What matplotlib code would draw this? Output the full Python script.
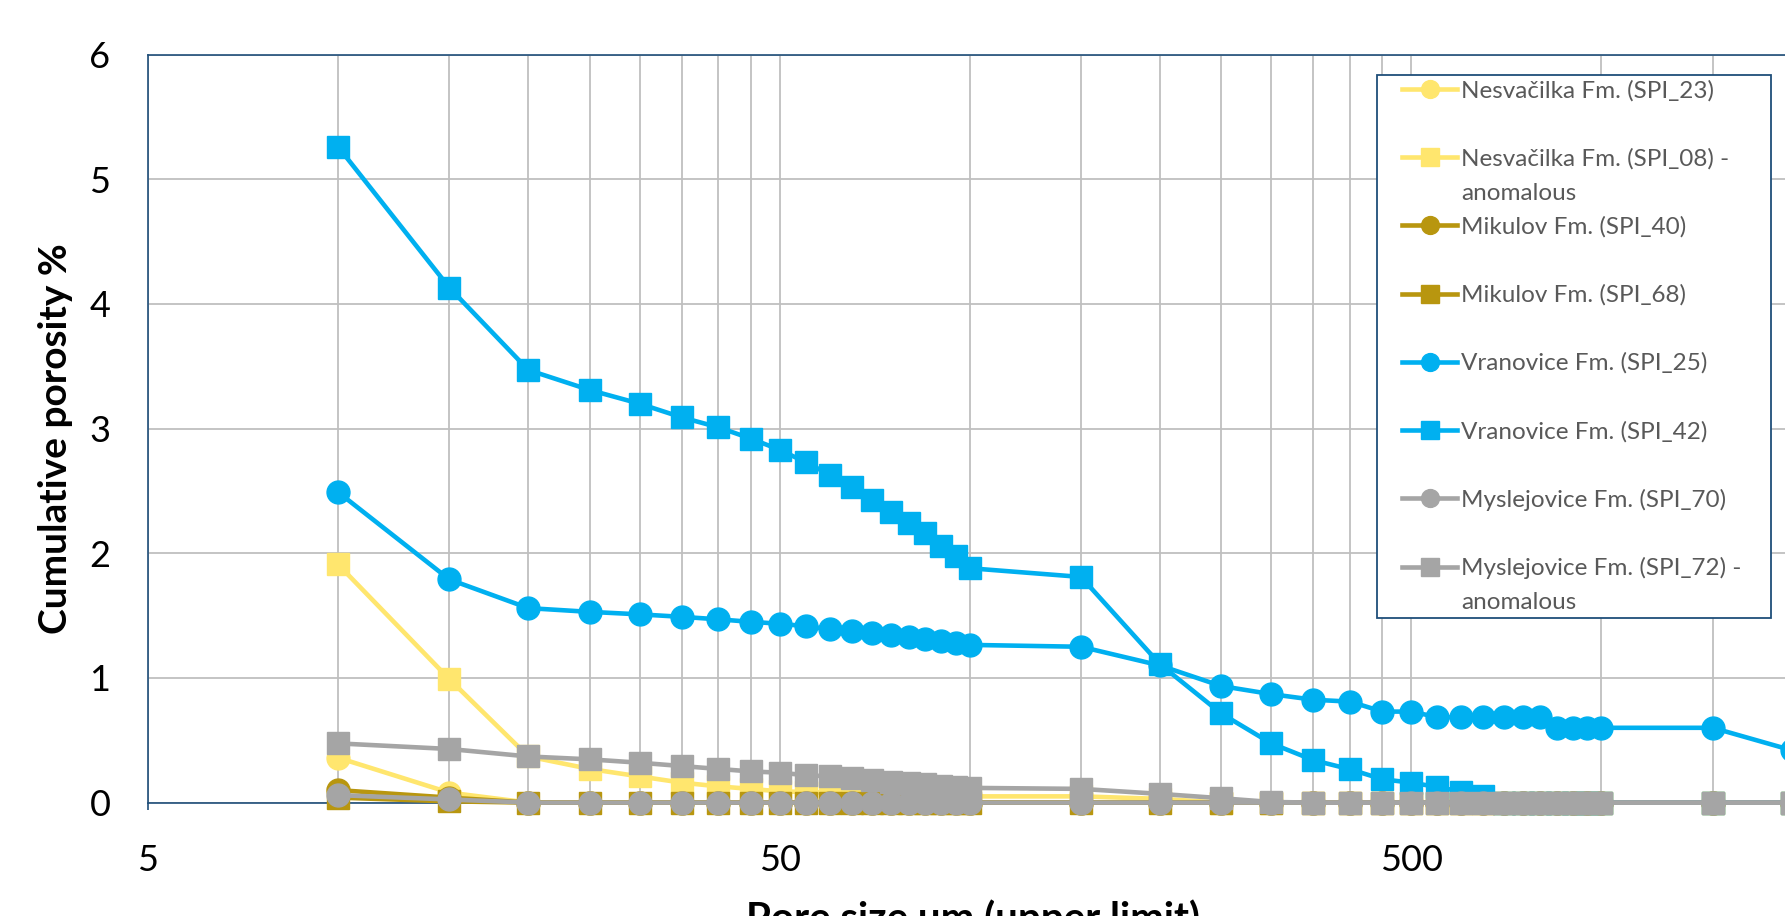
import matplotlib
matplotlib.use("Agg")
import matplotlib.pyplot as plt
from matplotlib.lines import Line2D
from matplotlib.legend_handler import HandlerLine2D

# pore size classes (upper limit, um)
pore_size = [10, 15, 20, 25, 30, 35, 40, 45, 50, 55, 60, 65, 70, 75, 80, 85, 90, 95, 100,
             150, 200, 250, 300, 350, 400, 450, 500, 550, 600, 650, 700, 750, 800, 850, 900, 950, 1000,
             1500, 2000]

# cumulative porosity %, one list per sample
spi_23 = [0.36, 0.08, 0.0, 0, 0, 0, 0, 0, 0, 0, 0, 0, 0, 0, 0, 0, 0, 0, 0,
          0, 0, 0, 0, 0, 0, 0, 0, 0, 0, 0, 0, 0, 0, 0, 0, 0, 0, 0, 0]
spi_08 = [1.91, 0.99, 0.37, 0.27, 0.21, 0.16, 0.13, 0.11, 0.09, 0.085, 0.08, 0.075, 0.07, 0.065, 0.06, 0.06, 0.055, 0.055, 0.05,
          0.05, 0.03, 0, 0, 0, 0, 0, 0, 0, 0, 0, 0, 0, 0, 0, 0, 0, 0, 0, 0]
spi_40 = [0.10, 0.04, 0, 0, 0, 0, 0, 0, 0, 0, 0, 0, 0, 0, 0, 0, 0, 0, 0,
          0, 0, 0, 0, 0, 0, 0, 0, 0, 0, 0, 0, 0, 0, 0, 0, 0, 0, 0, 0]
spi_68 = [0.04, 0.01, 0, 0, 0, 0, 0, 0, 0, 0, 0, 0, 0, 0, 0, 0, 0, 0, 0,
          0, 0, 0, 0, 0, 0, 0, 0, 0, 0, 0, 0, 0, 0, 0, 0, 0, 0, 0, 0]
spi_25 = [2.49, 1.79, 1.56, 1.53, 1.51, 1.49, 1.47, 1.45, 1.435, 1.415, 1.39, 1.375, 1.36, 1.345, 1.33, 1.31, 1.30, 1.28, 1.265,
          1.25, 1.10, 0.935, 0.87, 0.825, 0.81, 0.73, 0.73, 0.685, 0.685, 0.685, 0.685, 0.685, 0.685, 0.60, 0.60, 0.60, 0.60,
          0.60, 0.42]
spi_42 = [5.26, 4.13, 3.47, 3.31, 3.20, 3.09, 3.01, 2.92, 2.83, 2.73, 2.63, 2.53, 2.43, 2.33, 2.245, 2.16, 2.06, 1.98, 1.88,
          1.81, 1.11, 0.715, 0.475, 0.34, 0.267, 0.187, 0.16, 0.125, 0.088, 0.055, 0, 0, 0, 0, 0, 0, 0, 0, 0]
spi_70 = [0.06, 0.025, 0, 0, 0, 0, 0, 0, 0, 0, 0, 0, 0, 0, 0, 0, 0, 0, 0,
          0, 0, 0, 0, 0, 0, 0, 0, 0, 0, 0, 0, 0, 0, 0, 0, 0, 0, 0, 0]
spi_72 = [0.475, 0.43, 0.37, 0.347, 0.32, 0.293, 0.27, 0.25, 0.24, 0.22, 0.21, 0.195, 0.18, 0.168, 0.155, 0.147, 0.136, 0.128, 0.118,
          0.11, 0.07, 0.035, 0.005, 0, 0, 0, 0, 0, 0, 0, 0, 0, 0, 0, 0, 0, 0, 0, 0]

labels = ["Nesvačilka Fm. (SPI_23)", "Nesvačilka Fm. (SPI_08) -",
          "Mikulov Fm. (SPI_40)", "Mikulov Fm. (SPI_68)",
          "Vranovice Fm. (SPI_25)", "Vranovice Fm. (SPI_42)",
          "Myslejovice Fm. (SPI_70)", "Myslejovice Fm. (SPI_72) -"]

YELLOW = "#FFE66E"
GOLD = "#B8960F"
BLUE = "#00B0F0"
GREY = "#A5A5A5"
NAVY = "#1F4E79"
GRID = "#BFBFBF"

series = [(spi_23, YELLOW, "o"), (spi_08, YELLOW, "s"),
          (spi_40, GOLD, "o"), (spi_68, GOLD, "s"),
          (spi_25, BLUE, "o"), (spi_42, BLUE, "s"),
          (spi_70, GREY, "o"), (spi_72, GREY, "s")]

plt.rcParams["font.family"] = ["Lato", "DejaVu Sans"]

W, H = 1785, 916
fig = plt.figure(figsize=(W / 100, H / 100), dpi=100)
# plot area runs off the right edge of the figure (x axis goes to 5000)
ax = fig.add_axes([148 / W, 113.4 / H, 1895 / W, 748 / H])

handles = []
for i, (vals, col, mk) in enumerate(series):
    ln, = ax.plot(pore_size, vals, color=col, marker=mk, markersize=16.5,
                  markeredgecolor=col, linewidth=3.3, clip_on=False, zorder=3 + i * 0.01)
    handles.append(ln)

ax.set_xscale("log")
ax.set_xlim(5, 5000)
ax.set_ylim(0, 6)

major = [5, 50, 500, 5000]
minor = [5 * k * 10 ** n for n in range(3) for k in range(2, 10)]
ax.set_xticks(major)
ax.set_xticklabels(["5", "50", "500", ""])
ax.set_xticks(minor, minor=True)
ax.set_xticklabels([], minor=True)
ax.set_yticks(range(7))

ax.grid(which="both", axis="x", color=GRID, linewidth=1.3)
ax.grid(which="major", axis="y", color=GRID, linewidth=1.3)
ax.set_axisbelow(True)

for s in ax.spines.values():
    s.set_color(NAVY)
    s.set_linewidth(1.2)

ax.tick_params(axis="x", which="major", direction="out", length=5, width=1.2,
               color=NAVY, labelsize=26, pad=25)
ax.tick_params(axis="x", which="minor", length=0)
ax.tick_params(axis="y", length=0, labelsize=26, pad=27)

ax.set_ylabel("Cumulative porosity %", fontsize=28, fontweight="bold")
ax.yaxis.set_label_coords(-0.0396, 0.487)
ax.set_xlabel("Pore size um (upper limit)", fontsize=29, fontweight="bold")
ax.xaxis.set_label_coords(0.4354, -0.1289)

# legend: two rows per entry so the "anomalous" line sits under its label
blank = Line2D([], [], linestyle="none", marker="")
rows = [handles[0], blank, handles[1], blank, handles[2], blank, handles[3], blank,
        handles[4], blank, handles[5], blank, handles[6], blank, handles[7], blank]
row_labels = [labels[0], " ", labels[1], "anomalous", labels[2], " ", labels[3], " ",
              labels[4], " ", labels[5], " ", labels[6], " ", labels[7], "anomalous"]

fs = 17.5
fpx = fs * 100 / 72
leg = ax.legend(rows, row_labels, loc="upper left",
                bbox_to_anchor=(1377 / W, 1 - 617 / H, 394 / W, 542 / H),
                bbox_transform=fig.transFigure, mode="expand", borderaxespad=0,
                fontsize=fs, labelcolor="#595959", frameon=True, fancybox=False,
                framealpha=1, edgecolor=NAVY, borderpad=0.22, labelspacing=0.525,
                handlelength=(20 + 55) / fpx, handletextpad=0.15, markerscale=0.78,
                handler_map={Line2D: HandlerLine2D(xpad=20 / fpx)})
leg.get_frame().set_linewidth(1.3)

fig.savefig("out.png", dpi=100)
